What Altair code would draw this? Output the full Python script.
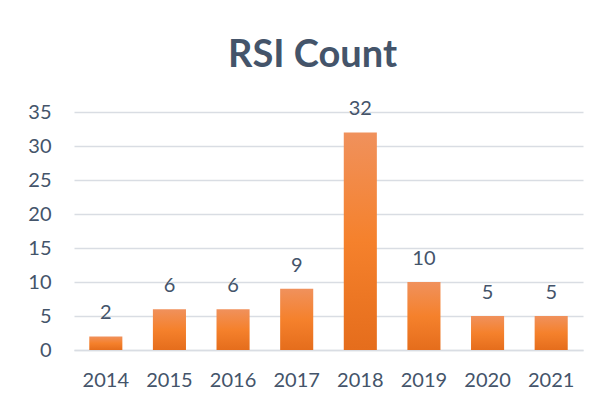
import altair as alt
import pandas as pd

years = ["2014", "2015", "2016", "2017", "2018", "2019", "2020", "2021"]
counts = [2, 6, 6, 9, 32, 10, 5, 5]
y_ticks = [0, 5, 10, 15, 20, 25, 30, 35]

df = pd.DataFrame({"year": years, "count": counts})

TXT = "#44546A"
FONT = "Lato"

grad = alt.Gradient(
    gradient="linear",
    stops=[
        alt.GradientStop(color="#F0915C", offset=0),
        alt.GradientStop(color="#F5812C", offset=0.5),
        alt.GradientStop(color="#E56D1C", offset=1),
    ],
    x1=0, x2=0, y1=0, y2=1,
)

x = alt.X("year:N", sort=years, title=None,
          scale=alt.Scale(paddingInner=0.48, paddingOuter=0.24),
          axis=alt.Axis(labelAngle=0, ticks=False, domain=True, domainColor="#D9DDE3",
                        domainWidth=1.5, labelPadding=20, labelFont=FONT, labelFontSize=20,
                        labelColor=TXT))
y = alt.Y("count:Q", title=None,
          scale=alt.Scale(domain=[0, 35], nice=False),
          axis=alt.Axis(values=y_ticks, ticks=False, domain=False, grid=True,
                        gridColor="#D9DDE3", gridWidth=1.5, labelPadding=23,
                        labelOverlap=False, labelFont=FONT, labelFontSize=20,
                        labelColor=TXT))

bars = alt.Chart(df).mark_bar(color=grad).encode(x=x, y=y)
labels = alt.Chart(df).mark_text(font=FONT, fontSize=20, color=TXT, baseline="alphabetic",
                                 dy=-17).encode(x=x, y=y, text="count:Q")

chart = (bars + labels).properties(
    width=509, height=238,
    background="white",
    title=alt.TitleParams("RSI Count", font=FONT, fontSize=38, fontWeight="bold",
                          color=TXT, anchor="middle", dx=-16, offset=24),
    autosize=alt.AutoSizeParams(type="none"),
    padding={"left": 66, "top": 104, "right": 10, "bottom": 50},
).configure_view(stroke=None, strokeWidth=0)

chart.save("out.html", embed_options={"renderer": "svg", "actions": False})
